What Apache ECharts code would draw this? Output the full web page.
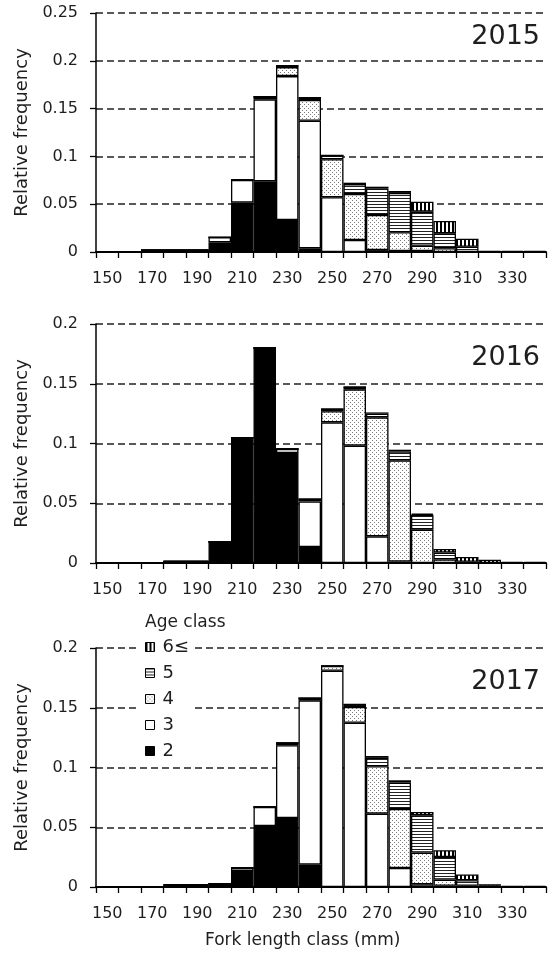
<!DOCTYPE html>
<html>
<head>
<meta charset="utf-8">
<script src="https://cdn.jsdelivr.net/npm/echarts@6/dist/echarts.min.js"></script>
<style>
  html, body { margin: 0; padding: 0; background: #fff; }
  #chart { width: 550px; height: 958px; }
</style>
</head>
<body>
<div id="chart"></div>
<script>
// Fork length classes (mm), one bar per 10 mm class
const categories = ['150','160','170','180','190','200','210','220','230','240',
                    '250','260','270','280','290','300','310','320','330','340'];
const years = ['2015', '2016', '2017'];
const ageNames = ['2', '3', '4', '5', '6≤'];
const yMax = [0.25, 0.2, 0.2];

// Relative frequency by age class, 2015
const age2_2015 = [0,0,0.002,0.002,0.002,0.0101,0.0516,0.074,0.0335,0.0038,0,0,0,0,0,0,0,0,0,0];
const age3_2015 = [0,0,0,0,0,0.0053,0.0237,0.0857,0.1505,0.1335,0.0572,0.0126,0.002,0.001,0.001,0,0,0,0,0];
const age4_2015 = [0,0,0,0,0,0,0,0.0028,0.0094,0.0217,0.0398,0.0481,0.0367,0.0196,0.0056,0.0039,0,0,0,0];
const age5_2015 = [0,0,0,0,0,0,0,0,0.0015,0.0024,0.0041,0.0103,0.0281,0.0412,0.0356,0.0156,0.0055,0,0,0];
const age6_2015 = [0,0,0,0,0,0,0,0,0,0,0,0.0015,0.0015,0.002,0.0104,0.0129,0.0084,0.001,0.001,0.001];

// Relative frequency by age class, 2016
const age2_2016 = [0,0,0,0.0014,0.0014,0.0176,0.105,0.18,0.092,0.0134,0,0,0,0,0,0,0,0,0,0];
const age3_2016 = [0,0,0,0,0,0,0,0,0.0034,0.0381,0.1177,0.0982,0.0223,0.0013,0,0,0,0,0,0];
const age4_2016 = [0,0,0,0,0,0,0,0,0,0.002,0.0093,0.0471,0.0996,0.0846,0.0279,0.003,0,0,0,0];
const age5_2016 = [0,0,0,0,0,0,0,0,0,0,0.0019,0.002,0.003,0.0074,0.0124,0.0057,0.001,0,0,0];
const age6_2016 = [0,0,0,0,0,0,0,0,0,0,0,0,0.0011,0.0015,0.001,0.003,0.004,0.0028,0.001,0.001];

// Relative frequency by age class, 2017
const age2_2017 = [0,0,0,0.0017,0.0017,0.0028,0.0134,0.051,0.0577,0.0187,0,0,0,0,0,0,0,0,0,0];
const age3_2017 = [0,0,0,0,0,0,0.0025,0.016,0.0609,0.1375,0.181,0.1375,0.0614,0.0159,0.0023,0.001,0,0,0,0];
const age4_2017 = [0,0,0,0,0,0,0,0,0.0019,0.0018,0.004,0.0131,0.0396,0.0494,0.0265,0.0052,0.001,0,0,0];
const age5_2017 = [0,0,0,0,0,0,0,0,0,0,0,0.0023,0.0071,0.022,0.0312,0.0189,0.0046,0.001,0,0];
const age6_2017 = [0,0,0,0,0,0,0,0,0,0,0,0,0.0015,0.002,0.0028,0.0056,0.0048,0.0013,0.001,0.001];

const panels = [
  [age2_2015, age3_2015, age4_2015, age5_2015, age6_2015],
  [age2_2016, age3_2016, age4_2016, age5_2016, age6_2016],
  [age2_2017, age3_2017, age4_2017, age5_2017, age6_2017]
];

// Fill patterns for the age classes
function makePattern(w, h, draw) {
  const c = document.createElement('canvas');
  c.width = w; c.height = h;
  const ctx = c.getContext('2d');
  ctx.fillStyle = '#fff';
  ctx.fillRect(0, 0, w, h);
  draw(ctx);
  return { image: c, repeat: 'repeat' };
}
const fills = [
  '#000',
  '#fff',
  makePattern(4, 4, ctx => { ctx.fillStyle = '#7a7a7a'; ctx.fillRect(0, 0, 1, 1); ctx.fillRect(2, 2, 1, 1); }),
  makePattern(4, 3, ctx => { ctx.fillStyle = '#222'; ctx.fillRect(0, 0, 4, 1); }),
  makePattern(4, 4, ctx => { ctx.fillStyle = '#000'; ctx.fillRect(0, 0, 2, 4); })
];

const FONT = '"DejaVu Sans", sans-serif';
const TEXT = '#1e1e1e';
const gridTops = [13, 324, 648];
const gridHeight = 239;

const grids = [], xAxes = [], yAxes = [], series = [], titles = [];
for (let p = 0; p < 3; p++) {
  grids.push({ left: 96, width: 450, top: gridTops[p], height: gridHeight });
  xAxes.push({
    type: 'category', gridIndex: p, data: categories, boundaryGap: true,
    axisLine: { lineStyle: { color: '#000', width: 2 } },
    axisTick: { show: true, interval: 0, length: 6, lineStyle: { color: '#000', width: 1.3 } },
    axisLabel: { interval: 1, margin: 19, fontSize: 16, fontFamily: FONT, color: TEXT },
    splitLine: { show: false }
  });
  yAxes.push({
    type: 'value', gridIndex: p, min: 0, max: yMax[p], interval: 0.05,
    name: 'Relative frequency', nameLocation: 'middle', nameGap: 61,
    nameTextStyle: { fontSize: 18, fontFamily: FONT, color: TEXT },
    axisLine: { show: true, lineStyle: { color: '#000', width: 1.5 } },
    axisTick: { show: true, length: 6, lineStyle: { color: '#000', width: 1.3 } },
    axisLabel: { margin: 18, fontSize: 16, fontFamily: FONT, color: TEXT },
    splitLine: { show: true, lineStyle: { color: '#222', width: 1.5, type: [7, 4] } }
  });
  for (let a = 0; a < 5; a++) {
    series.push({
      type: 'bar', name: ageNames[a], xAxisIndex: p, yAxisIndex: p,
      stack: 'panel' + p, data: panels[p][a],
      barCategoryGap: '0%', barGap: '0%',
      itemStyle: { color: fills[a], borderColor: '#000', borderWidth: 1.3 },
      emphasis: { disabled: true }
    });
  }
}

const yearTops = [23, 344, 668];
years.forEach((y, i) => {
  titles.push({ text: y, right: 10, top: yearTops[i], padding: 0,
    textStyle: { fontSize: 27, fontWeight: 'normal', fontFamily: FONT, color: TEXT } });
});
titles.push({ text: 'Age class', left: 145, top: 614, padding: 0,
  textStyle: { fontSize: 17, fontWeight: 'normal', fontFamily: FONT, color: TEXT } });

const chart = echarts.init(document.getElementById('chart'), null, { renderer: 'canvas' });
chart.setOption({
  animation: false,
  backgroundColor: '#fff',
  title: titles,
  grid: grids,
  xAxis: xAxes,
  yAxis: yAxes,
  legend: {
    data: ['6≤', '5', '4', '3', '2'],
    orient: 'vertical', left: 137, top: 636,
    padding: [2, 4, 2, 8], backgroundColor: '#fff',
    itemWidth: 9, itemHeight: 9, itemGap: 8, icon: 'rect',
    itemStyle: { borderColor: '#000', borderWidth: 1 },
    textStyle: { fontSize: 18, lineHeight: 17, fontFamily: FONT, color: TEXT, padding: [0, 0, 0, 3] },
    selectedMode: false
  },
  graphic: [{
    type: 'text', left: 205, top: 932,
    style: { text: 'Fork length class (mm)', font: '17px "DejaVu Sans", sans-serif', fill: TEXT }
  }],
  series: series
});
</script>
</body>
</html>
